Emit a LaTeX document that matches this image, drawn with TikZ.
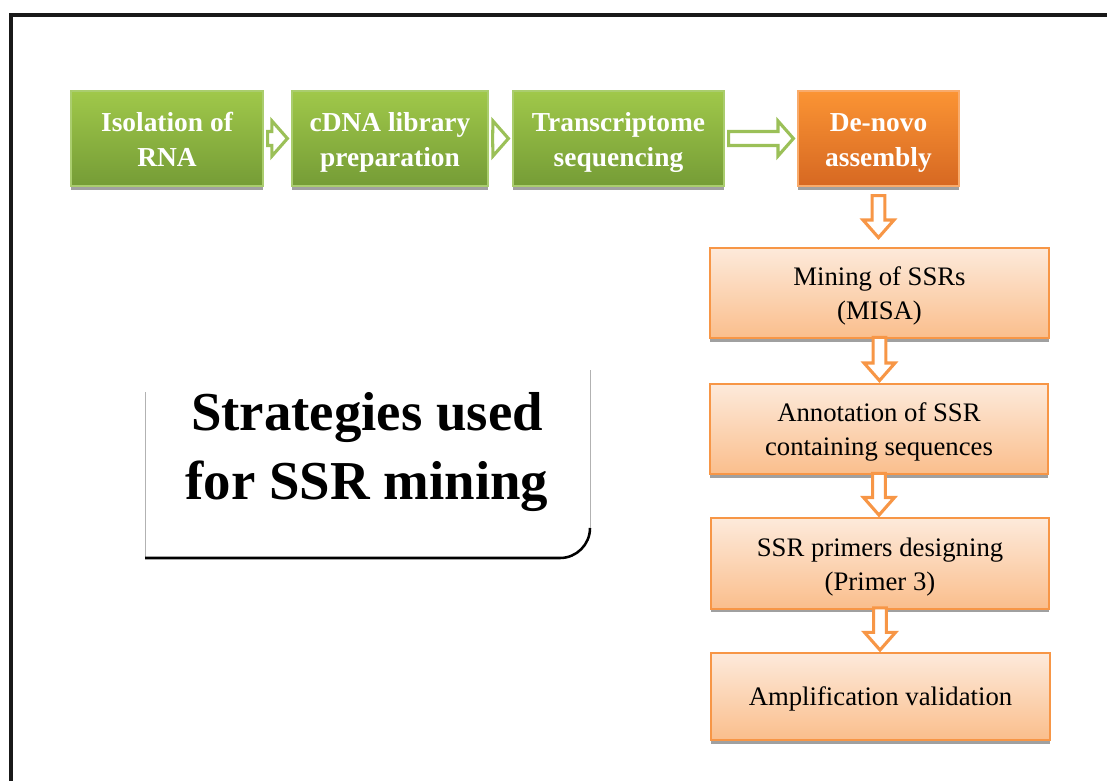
\documentclass[tikz,border=0pt]{standalone}
\usepackage{fontspec}
\setmainfont{Liberation Serif}
\usetikzlibrary{calc,shadows}

\definecolor{gtop}{RGB}{160,200,74}
\definecolor{gbot}{RGB}{117,156,54}
\definecolor{gline}{RGB}{170,205,110}
\definecolor{garrow}{RGB}{155,192,88}
\definecolor{dtop}{RGB}{251,148,52}
\definecolor{dbot}{RGB}{214,104,34}
\definecolor{otop}{RGB}{253,234,219}
\definecolor{obot}{RGB}{250,190,140}
\definecolor{oline}{RGB}{247,150,70}
\definecolor{shadowgray}{RGB}{160,160,160}

% block arrows between two named boxes
\newcommand{\rightblock}[2]{%
  \draw[greenarrow] let \p1=($(#1.east)+(4,0)$), \p2=($(#2.west)+(-4,0)$) in
    (\x1,\y1+5pt) -- (\x2-11pt,\y1+5pt) -- (\x2-11pt,\y1+12.5pt) -- (\x2,\y1)
    -- (\x2-11pt,\y1-12.5pt) -- (\x2-11pt,\y1-5pt) -- (\x1,\y1-5pt) -- cycle;}
\newcommand{\downblock}[4]{%
  \draw[orangearrow] let \p1=($(#1.south)+(0,#3)$), \p2=($(#2.north)+(0,#4)$) in
    (\x1-4.5pt,\y1) -- (\x1-4.5pt,\y2+12.5pt) -- (\x1-11pt,\y2+12.5pt) -- (\x1,\y2)
    -- (\x1+11pt,\y2+12.5pt) -- (\x1+4.5pt,\y2+12.5pt) -- (\x1+4.5pt,\y1) -- cycle;}

\begin{document}
\begin{tikzpicture}[x=0.025cm, y=-0.025cm,
    boxshadow/.style={drop shadow={shadow xshift=0pt, shadow yshift=-2.5pt, fill=shadowgray, opacity=1}},
    greenbox/.style={draw=gline, line width=0.8pt, top color=gtop, bottom color=gbot, boxshadow,
      minimum height=2.375cm, align=center, text=white, text height=40.5pt, text depth=0pt,
      font=\bfseries\fontsize{19.5}{25}\selectfont},
    denovobox/.style={greenbox, draw=oline!80, top color=dtop, bottom color=dbot},
    stepbox/.style={draw=oline, line width=1.4pt, top color=otop, bottom color=obot, boxshadow,
      minimum width=8.45cm, minimum height=2.27cm, align=center, text height=38pt, text depth=0pt,
      font=\fontsize{19}{24}\selectfont},
    greenarrow/.style={draw=garrow, line width=2.2pt, fill=white},
    orangearrow/.style={draw=oline, line width=2.2pt, fill=white}]
  \useasboundingbox (0,0) rectangle (1107,781);

  % 1. outer frame
  \draw[line width=2.2pt, black!90] (11,781) -- (11,15) -- (1107,15);

  % 2. top row
  \node[greenbox, minimum width=4.8cm] (rna) at (167,138.5) {Isolation of\\RNA};
  \node[greenbox, minimum width=4.9cm] (cdna) at (390,138.5) {cDNA library\\preparation};
  \node[greenbox, minimum width=5.275cm] (seq) at (618.5,138.5) {Transcriptome\\sequencing};
  \node[denovobox, minimum width=4.025cm] (denovo) at (878.5,138.5) {De-novo\\assembly};

  % 3. right column
  \node[stepbox] (misa) at (879.5,293) {Mining of SSRs\\(MISA)};
  \node[stepbox] (annot) at (879,429) {Annotation of SSR\\containing sequences};
  \node[stepbox] (primer) at (880,563.5) {SSR primers designing\\(Primer 3)};
  \node[stepbox, minimum height=2.175cm, text height=13pt] (amp) at (880.5,696.5) {Amplification validation};

  % 4. arrows
  \rightblock{rna}{cdna}
  \rightblock{cdna}{seq}
  \rightblock{seq}{denovo}
  \downblock{denovo}{misa}{9}{-9}
  \downblock{misa}{annot}{-2}{-2}
  \downblock{annot}{primer}{-2}{-2}
  \downblock{primer}{amp}{-2}{-2}

  % 5. title panel
  \draw[gray!60, line width=0.6pt] (145,392) -- (145,558);
  \draw[gray!60, line width=0.6pt] (590,370) -- (590,528);
  \draw[line width=1.8pt] (590,528) arc[start angle=0, end angle=-90, radius=0.75cm] -- (145,558);
  \node[align=center, font=\bfseries\fontsize{39}{49}\selectfont] (title) at (367,452)
    {Strategies used\\for SSR mining};
\end{tikzpicture}
\end{document}
